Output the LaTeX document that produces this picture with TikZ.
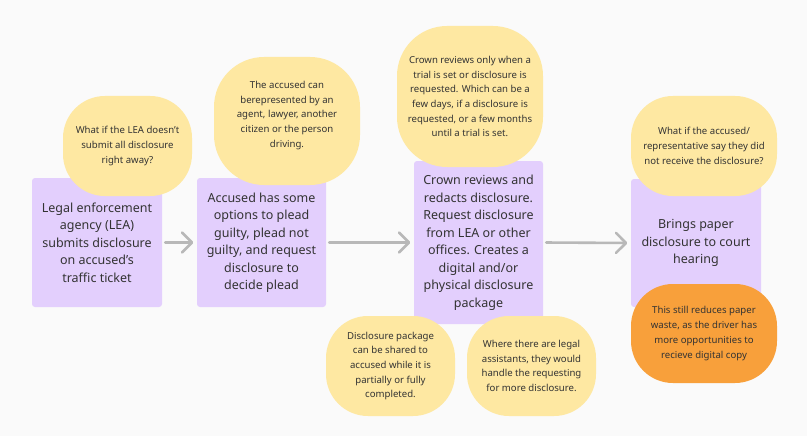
\documentclass[tikz,border=0pt]{standalone}
\usepackage{fontspec}
\setmainfont{Noto Sans}
\usetikzlibrary{arrows.meta}
\definecolor{bg}{HTML}{FAFAFA}
\definecolor{boxc}{HTML}{E3CFFD}
\definecolor{noteyel}{HTML}{FEE8A2}
\definecolor{noteorg}{HTML}{F8A03B}
\definecolor{txt}{HTML}{333333}
\definecolor{arr}{HTML}{B8B8B8}
\begin{document}
\begin{tikzpicture}[x=1pt,y=-1pt,
  stepbox/.style={fill=boxc, rounded corners=3pt, inner sep=0pt, align=center, text=txt,
    font=\fontsize{12.5}{17.5}\selectfont},
  note/.style={fill=noteyel, rounded corners=42pt, inner sep=0pt, align=center, text=txt,
    font=\fontsize{9.6}{14.7}\selectfont},
  flow/.style={draw=arr, line width=2.6pt, line cap=round, shorten <=3pt, shorten >=3.5pt,
    -{Straight Barb[length=10pt, width=20pt, line cap=round, line join=round]}}]
\useasboundingbox (0,0) rectangle (807,436);
\fill[bg] (0,0) rectangle (807,436);
% boxes
\node[stepbox, minimum width=130pt, minimum height=129pt] (b1) at (97,242.5) {Legal enforcement\\agency (LEA)\\submits disclosure\\on accused's\\traffic ticket};
\node[stepbox, minimum width=129pt, minimum height=129pt] (b2) at (261.5,242.5) {Accused has some\\options to plead\\guilty, plead not\\guilty, and request\\disclosure to\\decide plead};
\node[stepbox, minimum width=129pt, minimum height=163pt] (b3) at (478.5,242.5) {Crown reviews and\\redacts disclosure.\\Request disclosure\\from LEA or other\\offices. Creates a\\digital and/or\\physical disclosure\\package};
\node[stepbox, minimum width=130pt, minimum height=128pt] (b4) at (696,243) {Brings paper\\disclosure to court\\hearing};
% notes
\node[note, minimum width=129pt, minimum height=100pt] (n1) at (127.5,146) {What if the LEA doesn't\\submit all disclosure\\right away?};
\node[note, minimum width=146pt, minimum height=128pt, rounded corners=50pt] (n2) at (287,121) {};
\node[text=txt, align=center, font=\fontsize{9.6}{14.7}\selectfont] (n2t) at (287,115.5) {The accused can\\berepresented by an\\agent, lawyer, another\\citizen or the person\\driving.};
\node[note, minimum width=146pt, minimum height=141pt, rounded corners=50pt] (n3) at (470,96.5) {Crown reviews only when a\\trial is set or disclosure is\\requested. Which can be a\\few days, if a disclosure is\\requested, or a few months\\until a trial is set.};
\node[note, minimum width=146pt, minimum height=100pt] (n4) at (704,146) {What if the accused/\\representative say they did\\not receive the disclosure?};
\node[note, minimum width=129pt, minimum height=100pt] (n5) at (390.5,366) {Disclosure package\\can be shared to\\accused while it is\\partially or fully\\completed.};
\node[note, minimum width=129pt, minimum height=100pt] (n6) at (531.5,366) {Where there are legal\\assistants, they would\\handle the requesting\\for more disclosure.};
\node[note, fill=noteorg, minimum width=146pt, minimum height=99pt] (n7) at (704,333.5) {This still reduces paper\\waste, as the driver has\\more opportunities to\\recieve digital copy};
% arrows
\draw[flow] (b1.east) -- (b2.west);
\draw[flow] (b2.east) -- (b3.west);
\draw[flow] (b3.east) -- (b4.west);
\end{tikzpicture}
\end{document}
